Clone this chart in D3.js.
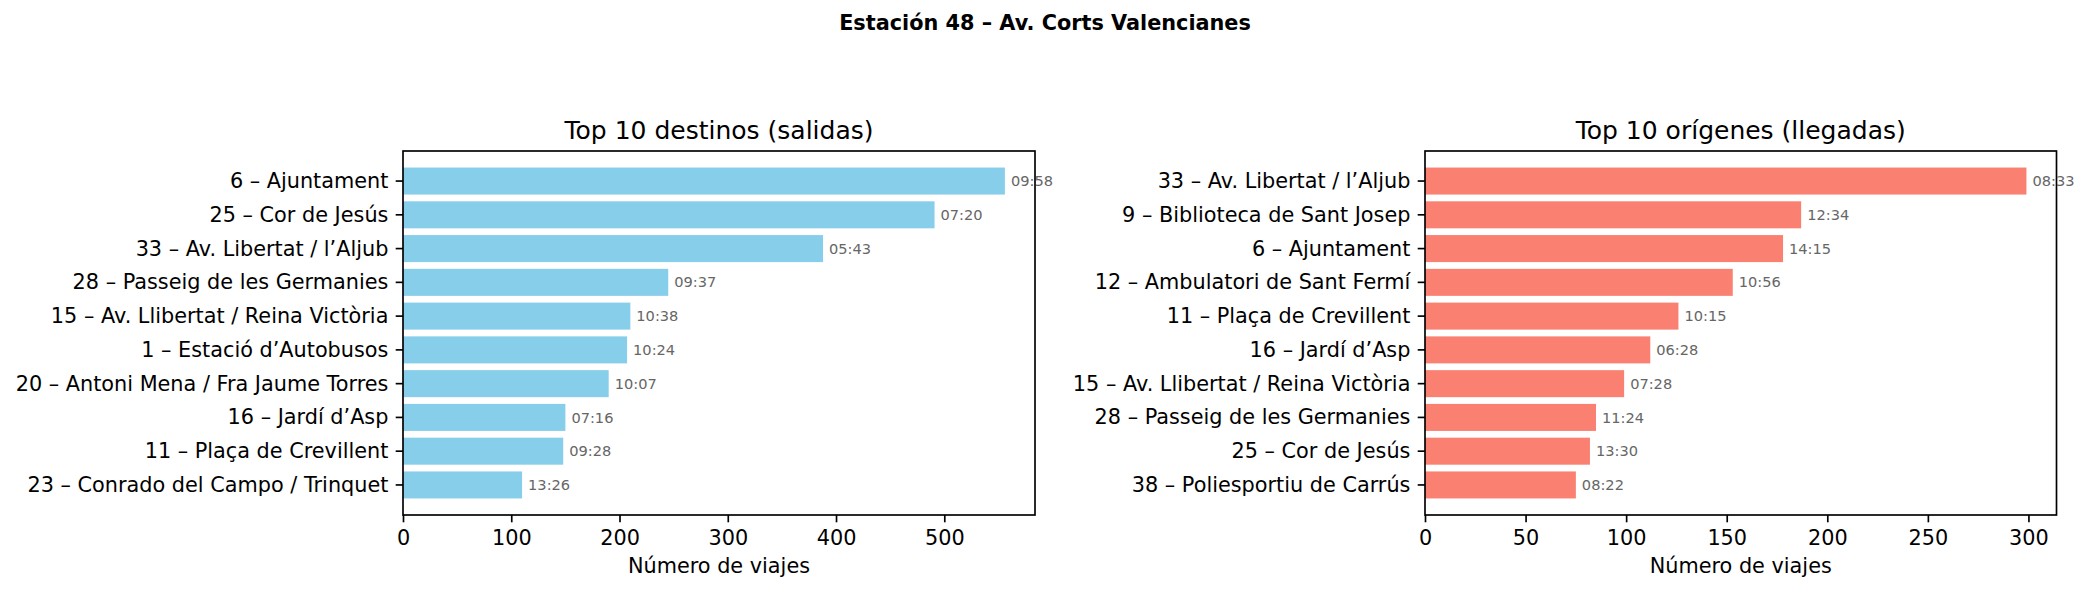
<!DOCTYPE html>
<html>
<head>
<meta charset="utf-8">
<script src="https://cdn.jsdelivr.net/npm/d3@7"></script>
<style>
  html, body { margin: 0; padding: 0; background: #fff; }
  svg { display: block; font-family: "DejaVu Sans", sans-serif; }
</style>
</head>
<body>
<svg id="chart" width="2090" height="594"></svg>
<script>
// ---- Data ----
const figTitle = "Estación 48 – Av. Corts Valencianes";

const destTitle = "Top 10 destinos (salidas)";
const destLabels = [
  "6 – Ajuntament",
  "25 – Cor de Jesús",
  "33 – Av. Libertat / l’Aljub",
  "28 – Passeig de les Germanies",
  "15 – Av. Llibertat / Reina Victòria",
  "1 – Estació d’Autobusos",
  "20 – Antoni Mena / Fra Jaume Torres",
  "16 – Jardí d’Asp",
  "11 – Plaça de Crevillent",
  "23 – Conrado del Campo / Trinquet"
];
const destValues = [556, 491, 388, 245, 210, 207, 190, 150, 148, 110];
const destTimes = ["09:58", "07:20", "05:43", "09:37", "10:38", "10:24", "10:07", "07:16", "09:28", "13:26"];
const destTicks = [0, 100, 200, 300, 400, 500];

const origTitle = "Top 10 orígenes (llegadas)";
const origLabels = [
  "33 – Av. Libertat / l’Aljub",
  "9 – Biblioteca de Sant Josep",
  "6 – Ajuntament",
  "12 – Ambulatori de Sant Fermí",
  "11 – Plaça de Crevillent",
  "16 – Jardí d’Asp",
  "15 – Av. Llibertat / Reina Victòria",
  "28 – Passeig de les Germanies",
  "25 – Cor de Jesús",
  "38 – Poliesportiu de Carrús"
];
const origValues = [299, 187, 178, 153, 126, 112, 99, 85, 82, 75];
const origTimes = ["08:33", "12:34", "14:15", "10:56", "10:15", "06:28", "07:28", "11:24", "13:30", "08:22"];
const origTicks = [0, 50, 100, 150, 200, 250, 300];

const xLabel = "Número de viajes";

// ---- Drawing ----
const svg = d3.select("#chart");
const FS = 20.8;

svg.append("text")
  .attr("x", 1045).attr("y", 30)
  .attr("text-anchor", "middle")
  .attr("font-size", FS).attr("font-weight", "bold")
  .attr("fill", "#000")
  .text(figTitle);

function panel(opts) {
  const { left, right, top, bottom, labels, values, times, ticks, color, title } = opts;
  const g = svg.append("g");
  const vmax = d3.max(values);
  const x = d3.scaleLinear().domain([0, vmax * 1.05]).range([left, right]);
  const y = d3.scaleBand().domain(labels).range([top, bottom])
    .paddingInner(0.2).paddingOuter(0.49).align(0.5);

  // bars
  g.selectAll("rect.bar").data(values).enter().append("rect")
    .attr("x", x(0))
    .attr("y", (d, i) => y(labels[i]))
    .attr("width", d => x(d) - x(0))
    .attr("height", y.bandwidth())
    .attr("fill", color);

  // annotations
  g.selectAll("text.ann").data(values).enter().append("text")
    .attr("x", d => x(d) + 6)
    .attr("y", (d, i) => y(labels[i]) + y.bandwidth() / 2)
    .attr("dy", "0.35em")
    .attr("font-size", 14.6)
    .attr("fill", "#666")
    .text((d, i) => times[i]);

  // y axis
  const yAxis = d3.axisLeft(y).tickSize(7.3).tickPadding(7.3);
  const ya = g.append("g").attr("transform", `translate(${left},0)`).call(yAxis);
  ya.select(".domain").remove();
  ya.selectAll(".tick line").attr("stroke", "#000").attr("stroke-width", 1.67);
  ya.selectAll(".tick text").attr("font-size", FS).attr("fill", "#000")
    .attr("font-family", "DejaVu Sans").attr("dy", "0.34em");

  // x axis
  const xAxis = d3.axisBottom(x).tickValues(ticks).tickSize(7.3).tickPadding(7.3).tickFormat(d3.format("d"));
  const xa = g.append("g").attr("transform", `translate(0,${bottom})`).call(xAxis);
  xa.select(".domain").remove();
  xa.selectAll(".tick line").attr("stroke", "#000").attr("stroke-width", 1.67);
  xa.selectAll(".tick text").attr("font-size", FS).attr("fill", "#000")
    .attr("font-family", "DejaVu Sans").attr("dy", "0.76em");

  // frame
  g.append("rect")
    .attr("x", left).attr("y", top)
    .attr("width", right - left).attr("height", bottom - top)
    .attr("fill", "none").attr("stroke", "#000").attr("stroke-width", 1.67);

  // title
  g.append("text")
    .attr("x", (left + right) / 2).attr("y", top - 12.5)
    .attr("text-anchor", "middle").attr("font-size", 25).attr("fill", "#000")
    .text(title);

  // x label
  g.append("text")
    .attr("x", (left + right) / 2).attr("y", 573)
    .attr("text-anchor", "middle").attr("font-size", FS).attr("fill", "#000")
    .text(xLabel);
}

panel({ left: 403, right: 1035, top: 151, bottom: 515,
  labels: destLabels, values: destValues, times: destTimes, ticks: destTicks,
  color: "#87CEEB", title: destTitle });

panel({ left: 1425, right: 2056.5, top: 151, bottom: 515,
  labels: origLabels, values: origValues, times: origTimes, ticks: origTicks,
  color: "#FA8072", title: origTitle });
</script>
</body>
</html>
